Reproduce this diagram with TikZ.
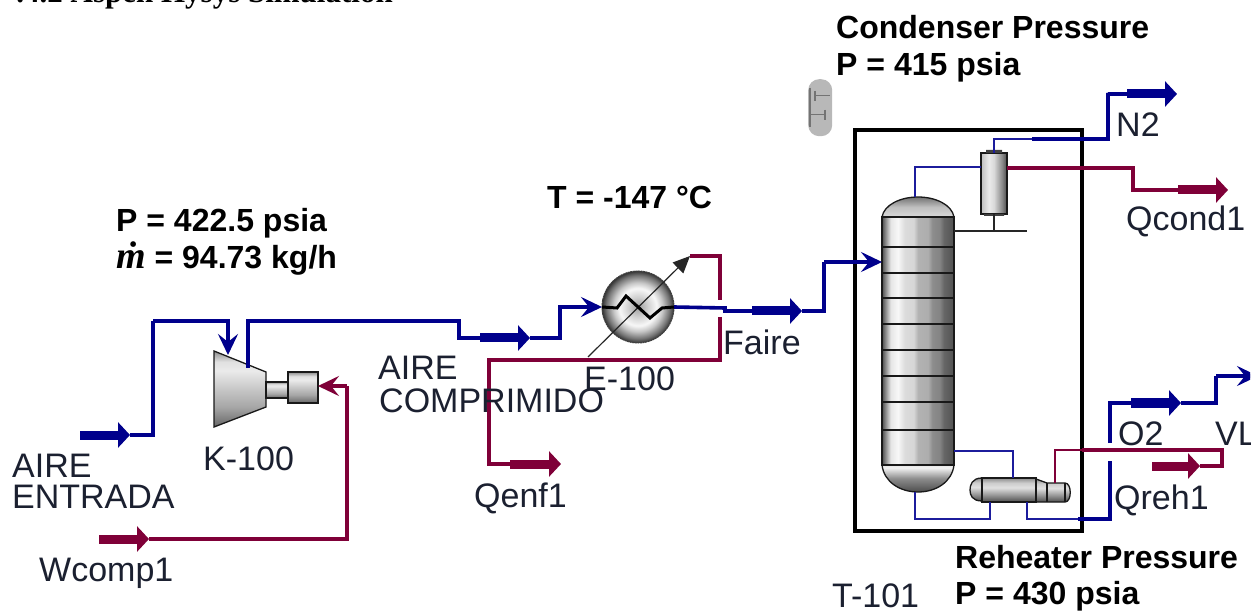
\documentclass[tikz,border=0pt]{standalone}
\usepackage{fontspec}
\setmainfont{Liberation Sans}
\newfontfamily\titlefont{Liberation Serif}
\usetikzlibrary{arrows.meta}
\definecolor{pipe}{HTML}{00008C}
\definecolor{pipethin}{HTML}{1C1C9C}
\definecolor{energy}{HTML}{7F0038}
\definecolor{labelink}{HTML}{1B2030}
\pgfdeclarehorizontalshading{colshade}{100bp}{color(0bp)=(black!70);color(25bp)=(black!70);color(27bp)=(black!50);color(31bp)=(black!10);color(36bp)=(black!3);color(41bp)=(black!14);color(47bp)=(black!16);color(50bp)=(black!30);color(57bp)=(black!32);color(60bp)=(black!45);color(65bp)=(black!48);color(68bp)=(black!60);color(75bp)=(black!68);color(100bp)=(black!68)}
\pgfdeclarehorizontalshading{condshade}{100bp}{color(0bp)=(black!25);color(25bp)=(black!25);color(40bp)=(black!8);color(50bp)=(black!15);color(65bp)=(black!45);color(75bp)=(black!70);color(100bp)=(black!70)}
\pgfdeclareverticalshading{compshade}{100bp}{color(0bp)=(black!60);color(25bp)=(black!60);color(38bp)=(black!35);color(50bp)=(black!22);color(62bp)=(black!8);color(68bp)=(black!12);color(75bp)=(black!45);color(100bp)=(black!45)}
\pgfdeclareverticalshading{reboilshade}{100bp}{color(0bp)=(black!70);color(25bp)=(black!70);color(40bp)=(black!40);color(55bp)=(black!12);color(65bp)=(black!20);color(75bp)=(black!45);color(100bp)=(black!45)}
\pgfdeclareverticalshading{domeshade}{100bp}{color(0bp)=(black!15);color(25bp)=(black!15);color(50bp)=(black!25);color(75bp)=(black!55);color(100bp)=(black!55)}
\pgfdeclareverticalshading{bottomshade}{100bp}{color(0bp)=(black!70);color(25bp)=(black!70);color(50bp)=(black!45);color(70bp)=(black!5);color(75bp)=(black!10);color(100bp)=(black!10)}
\pgfdeclareradialshading{ballshade}{\pgfpoint{0bp}{0bp}}{color(0bp)=(black!38);color(7bp)=(black!18);color(13bp)=(black!3);color(17bp)=(black!22);color(22bp)=(black!55);color(25bp)=(black!80);color(50bp)=(black!80)}
\tikzset{
  stream/.style={draw=pipe,line width=3.6pt,miter limit=10},
  thinstream/.style={draw=pipethin,line width=2pt},
  estream/.style={draw=energy,line width=3.6pt},
  thinestream/.style={draw=energy,line width=2pt},
  bigblue/.style={draw=pipe,line width=9pt,-{Triangle[length=12pt,width=25pt,fill=pipe]}},
  bigred/.style={draw=energy,line width=9pt,-{Triangle[length=12pt,width=25pt,fill=energy]}},
  barbblue/.style={draw=pipe,line width=3.6pt,-{Stealth[length=21pt,width=20pt,inset=8pt,fill=pipe]}},
  barbred/.style={draw=energy,line width=3.6pt,-{Stealth[length=21pt,width=20pt,inset=8pt,fill=energy]}},
  outline/.style={draw=black!90,line width=1.3pt},
  label/.style={anchor=base west,inner sep=0pt,text=labelink,font=\fontsize{34}{34}\selectfont},
  note/.style={anchor=base west,inner sep=0pt,text=black,font=\fontsize{32}{32}\selectfont\bfseries},
  equipbox/.style={rectangle,inner sep=0pt,outer sep=0pt,outline},
}
\begin{document}
\begin{tikzpicture}[x=1pt,y=-1pt]
\useasboundingbox (0,0) rectangle (1259,612);
\clip (0,0) rectangle (1250,612);
\fill[white] (0,0) rectangle (1259,612);

% ---- title cut off by the page edge
\node[anchor=base east,inner sep=0pt,font=\fontsize{31}{31}\selectfont\titlefont\bfseries] (title) at (393,3) {.4.2 Aspen Hysys Simulation};

% ---- tower enclosure
\node[rectangle,draw=black,line width=3.6pt,outer sep=0pt,minimum width=227pt,minimum height=401pt,inner sep=0pt,anchor=north west] (T101) at (855,130) {};

% ---- sensor pill
\node[rectangle,rounded corners=11pt,fill=black!28,minimum width=24pt,minimum height=57pt,inner sep=0pt,anchor=north west] (pill) at (808,79) {};
\draw[black!55,line width=1.2pt] (pill.west) ++(2,-20) -- ++(0,39);
\draw[black!55,line width=1.2pt] (pill.west) ++(7,-12) -- ++(15,0) (pill.west) ++(7,-17) -- ++(0,10);
\draw[black!55,line width=1.2pt] (pill.west) ++(2,7) -- ++(15,0) (pill.west) ++(17,2) -- ++(0,10);

% ---- compressor
\coordinate (kNW) at (214,351); \coordinate (kSW) at (214,427);
\coordinate (kSE) at (266,407); \coordinate (kNE) at (266,372);
\path[shading=compshade,outline] (kNW) -- (kNE) -- (kSE) -- (kSW) -- cycle;
\node[equipbox,shading=compshade,minimum width=22pt,minimum height=16pt,anchor=north west] (shaft) at (266,382) {};
\node[equipbox,shading=compshade,minimum width=30pt,minimum height=31pt,anchor=north west] (motor) at (288,372) {};

% ---- cooler
\node[circle,shading=ballshade,draw=black!75,line width=1pt,dash pattern=on 2pt off .6pt,minimum size=72pt,inner sep=0pt,outer sep=0pt] (E100) at (638,307) {};
\draw[black!85,line width=1.2pt,-{Triangle[length=17pt,width=15pt,fill=black!85]}] (588,357) coordinate (eTail) -- (690,256) coordinate (eTip);

% ---- column
\coordinate (cTop) at (918,197);
\coordinate (cBot) at (918,492);
\path[shading=domeshade,outline] (882,217) .. controls (884,205) and (900,197) .. (cTop) .. controls (936,197) and (952,205) .. (954,217) -- cycle;
\path[shading=bottomshade,outline] (882,465) .. controls (884,482) and (900,492) .. (cBot) .. controls (936,492) and (952,482) .. (954,465) -- cycle;
\node[equipbox,shading=colshade,minimum width=72pt,minimum height=248pt,anchor=north west] (column) at (882,217) {};
\foreach \yy in {247,273,298,324,350,376,402,430}
  \draw[black!90,line width=1.3pt] (column.west |- 0,\yy) -- (column.east |- 0,\yy);

% ---- condenser
\coordinate (rEnd) at (1027,231); \coordinate (rStart) at (954,231);
\draw[black!85,line width=1.2pt] (rStart) -- (rEnd);
\node[equipbox,shading=condshade,minimum width=26pt,minimum height=61pt,anchor=north west] (cond) at (981,153) {};
\fill[black!75] (984,216) rectangle (1004,214) (986,150) rectangle (1002,153);
\draw[black!85,line width=1.2pt] (cond.south) -- (cond.south |- rEnd);

% ---- reboiler
\path[shading=reboilshade,outline] (982,478) .. controls (972,478) and (970,485) .. (970,490) .. controls (970,495) and (972,501) .. (982,501) -- cycle;
\path[shading=reboilshade,outline] (1036,479) -- (1047,483) -- (1065,483) .. controls (1072,483) and (1072,502) .. (1065,502) -- (1036,502) -- cycle;
\node[equipbox,shading=reboilshade,minimum width=54pt,minimum height=24pt,anchor=north west] (reb) at (982,478) {};
\draw[black!90,line width=1.2pt] (1047,483) -- (1047,502) (1065,483) -- (1065,502);

% ---- named way points of the streams
\coordinate (inA) at (80,435);   \coordinate (inC) at (130,435);
\coordinate (inD) at (153,321);  \coordinate (kIn) at (228,355);
\coordinate (kOut) at (248,368); \coordinate (kOutB) at (459,321);
\coordinate (aA) at (480,338);   \coordinate (aC) at (530,338);
\coordinate (aD) at (560,308);   \coordinate (fJog) at (725,308); \coordinate (fA) at (752,311);
\coordinate (fC) at (802,311);   \coordinate (fD) at (824,262);   \coordinate (colIn) at (882,262);
\coordinate (wA) at (99,539);    \coordinate (wC) at (149,539);
\coordinate (wD) at (347,386);
\coordinate (qaA) at (720,254);  \coordinate (qaB) at (720,300);  \coordinate (qaC) at (720,317);
\coordinate (qaD) at (489,360);  \coordinate (qaE) at (510,464);
\coordinate (qaG) at (561,464);
\coordinate (nB) at (1032,139);  \coordinate (nC) at (1108,93);
\coordinate (nD) at (1127,94);   \coordinate (nF) at (1177,94);
\coordinate (qcA) at (1133,190); \coordinate (qcB) at (1178,190);
\coordinate (qcD) at (1228,190);
\coordinate (vapA) at (915,167);
\coordinate (bA) at (1013,451);  \coordinate (bB) at (915,519);   \coordinate (bC) at (990,519);
\coordinate (bD) at (1027,519);  \coordinate (bE) at (1078,519);  \coordinate (bF) at (1110,461);
\coordinate (bG) at (1110,443);  \coordinate (oA) at (1131,403);
\coordinate (oC) at (1181,403);  \coordinate (oD) at (1216,376);
\coordinate (oE) at (1258,376);
\coordinate (qrA) at (1055,483); \coordinate (qrB) at (1082,450); \coordinate (qrC) at (1222,450);
\coordinate (qrD) at (1222,466); \coordinate (qrE) at (1200,466); \coordinate (qrF) at (1152,466);

% ---- material streams
\draw[bigblue] (inA) -- (inC);
\path[stream] (inC) -| (inD);
\draw[barbblue] (inD) -| (kIn);
\path[stream] (kOut) |- (kOutB) |- (aA);
\draw[bigblue] (aA) -- (aC);
\path[stream] (aC) -| (aD);
\draw[barbblue] (aD) |- (E100.west);
\path[stream] (E100.east) -- (fJog) |- (fA);
\draw[bigblue] (fA) -- (fC);
\path[stream] (fC) -| (fD);
\draw[barbblue] (fD) |- (colIn);
\path[thinstream] (cTop -| vapA) |- (cond.west |- vapA);
\path[thinstream] (cond.north) |- (nB);
\path[stream] (nB) -| (nC) |- (nD);
\draw[bigblue] (nD) -- (nF);
\path[thinstream] (column.east |- bA) -| (reb.north -| bA);
\path[thinstream] (bB |- cBot) -- (bB) -| (reb.south -| bC);
\path[thinstream] (reb.south -| bD) |- (bE);
\path[stream] (bE) -| (bF);
\path[stream] (bG) |- (oA);
\draw[bigblue] (oA) -- (oC);
\path[stream] (oC) -| (oD);
\draw[barbblue] (oD) |- (oE);

% ---- energy streams
\draw[bigred] (wA) -- (wC);
\path[estream] (wC) -| (wD);
\draw[barbred] (wD) -- (motor.east |- wD);
\path[estream] (eTip) -- (eTip -| qaA) -- (qaB);
\path[estream] (qaC) |- (qaD) |- (qaE);
\draw[bigred] (qaE) -- (qaG);
\path[estream] (cond.east |- 0,168) -| (qcA) |- (qcB);
\draw[bigred] (qcB) -- (qcD);
\path[thinestream] (qrA) |- (qrB);
\path[estream] (qrB) -- (qrC) -- (qrD) -- (qrE);
\draw[bigred] (qrF) -- (qrE);

% ---- coil of the cooler
\draw[black,line width=3pt,line join=miter] (E100.west) -- (617,308) -- (626,296) -- (650,318) -- (662,308) -- (E100.east);

% ---- labels
\node[label] (lAire) at (12,477) {AIRE};
\node[label] (lEntrada) at (12,508) {ENTRADA};
\node[label] (lW) at (39,581) {Wcomp1};
\node[label] (lK) at (203,470) {K-100};
\node[label] (lAire2) at (378,380) {AIRE};
\node[label] (lComp) at (379,413) {COMPRIMIDO};
\node[label] (lE) at (584,391) {E-100};
\node[label] (lF) at (723,355) {Faire};
\node[label] (lQe) at (474,507) {Qenf1};
\node[label] (lN) at (1116,137) {N2};
\node[label] (lQc) at (1126,231) {Qcond1};
\node[label] (lO) at (1118,445) {O2};
\node[label] (lV) at (1215,445) {VL};
\node[label] (lQr) at (1114,509) {Qreh1};
\node[label] (lT) at (832,607) {T-101};

\node[note] (nC1) at (836,39) {Condenser Pressure};
\node[note] (nC2) at (836,76) {P = 415 psia};
\node[note] (nP) at (116,232) {P = 422.5 psia};
\node[note] (nM) at (116,269) {{\fontsize{38}{38}\selectfont\titlefont\itshape\.m} = 94.73 kg/h};
\node[note] (nT) at (547,209) {T = -147 °C};
\node[note] (nR1) at (955,568) {Reheater Pressure};
\node[note] (nR2) at (955,604) {P = 430 psia};
\end{tikzpicture}
\end{document}
